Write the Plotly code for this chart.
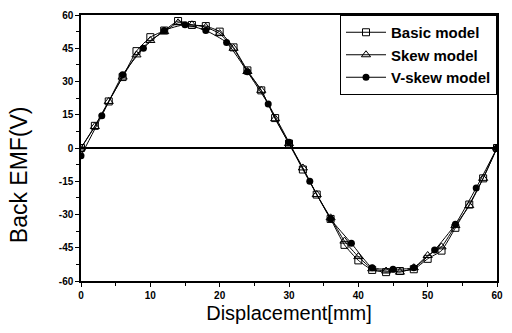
import plotly.graph_objects as go

# Displacement [mm]
x_basic = [0, 2, 4, 6, 8, 10, 12, 14, 16, 18, 20, 22, 24, 26, 28, 30,
           32, 34, 36, 38, 40, 42, 44, 46, 48, 50, 52, 54, 56, 58, 60]
basic = [0, 10, 21, 32, 43.7, 50, 53, 57.3, 55.5, 55, 52.5, 45.4, 35, 26, 13.5, 2,
         -9.7, -21, -32, -43.7, -50.7, -55, -56, -55.5, -54.7, -50, -46.3, -36, -25.5, -13.7, 0]

x_skew = x_basic
skew = [0, 9.7, 21, 32, 42, 48.5, 52.5, 56.5, 55.6, 54.5, 51.6, 45, 34.5, 26, 13.2, 2,
        -9, -21, -31.5, -42, -49, -54.5, -55.5, -56, -54, -48.5, -44.6, -35, -26, -13.7, 0]

x_vskew = [0, 3, 6, 9, 12, 15, 18, 21, 24, 27, 30, 33, 36, 39, 42, 45, 48, 51, 54, 57, 60]
vskew = [-3.5, 14.6, 33, 45, 53, 55.6, 53, 47.6, 34.4, 19.9, 2.6, -15, -32, -43, -54,
         -54.7, -54, -46, -34.4, -18, 0]

x_ticks = [0, 10, 20, 30, 40, 50, 60]
y_ticks = [-60, -45, -30, -15, 0, 15, 30, 45, 60]

fig = go.Figure()
fig.add_trace(go.Scatter(x=x_basic, y=basic, name="Basic model", mode="lines+markers",
                         line=dict(color="black", width=1, shape="spline", smoothing=0.5),
                         marker=dict(symbol="square-open", size=7, color="black", line=dict(width=1))))
fig.add_trace(go.Scatter(x=x_skew, y=skew, name="Skew model", mode="lines+markers",
                         line=dict(color="black", width=1, shape="spline", smoothing=0.5),
                         marker=dict(symbol="triangle-up-open", size=8, color="black", line=dict(width=1))))
fig.add_trace(go.Scatter(x=x_vskew, y=vskew, name="V-skew model", mode="lines+markers",
                         line=dict(color="black", width=1, shape="spline", smoothing=0.5),
                         marker=dict(symbol="circle", size=7, color="black")))

fig.update_layout(
    width=512, height=333,
    margin=dict(l=81, r=9, t=9, b=52),
    paper_bgcolor="white", plot_bgcolor="white",
    font=dict(family="Liberation Sans, Arial, sans-serif", color="black"),
    legend=dict(x=1.0, y=1.0, xanchor="right", yanchor="top",
                bgcolor="white", bordercolor="black", borderwidth=1,
                font=dict(size=15, family="Liberation Sans, Arial, sans-serif", weight="bold"),
                itemwidth=40, tracegroupgap=0),
    showlegend=True,
    annotations=[dict(text="Back EMF(V)", xref="paper", yref="paper", x=-0.15, y=0.40,
                      xanchor="center", yanchor="middle", textangle=-90, showarrow=False,
                      font=dict(size=23, family="Liberation Sans, Arial, sans-serif", color="black"))],
)
fig.update_xaxes(range=[0, 60], tickvals=x_ticks, ticktext=[str(v) for v in x_ticks],
                 showline=True, linecolor="black", linewidth=1.5, mirror=True,
                 ticks="outside", ticklen=4, tickcolor="black", showgrid=False, zeroline=False,
                 minor=dict(dtick=5, ticklen=3, ticks="outside", tickcolor="black", showgrid=False),
                 tickfont=dict(size=10, weight="bold"),
                 title=dict(text="Displacement[mm]", font=dict(size=20), standoff=6))
fig.update_yaxes(range=[-60, 60], tickvals=y_ticks, ticktext=[str(v) for v in y_ticks],
                 showline=True, linecolor="black", linewidth=1.5, mirror=True,
                 ticks="outside", ticklen=4, tickcolor="black", showgrid=False,
                 zeroline=True, zerolinecolor="black", zerolinewidth=1.5,
                 minor=dict(dtick=7.5, ticklen=3, ticks="outside", tickcolor="black", showgrid=False),
                 tickfont=dict(size=10, weight="bold"))

fig.write_html("out.html")
